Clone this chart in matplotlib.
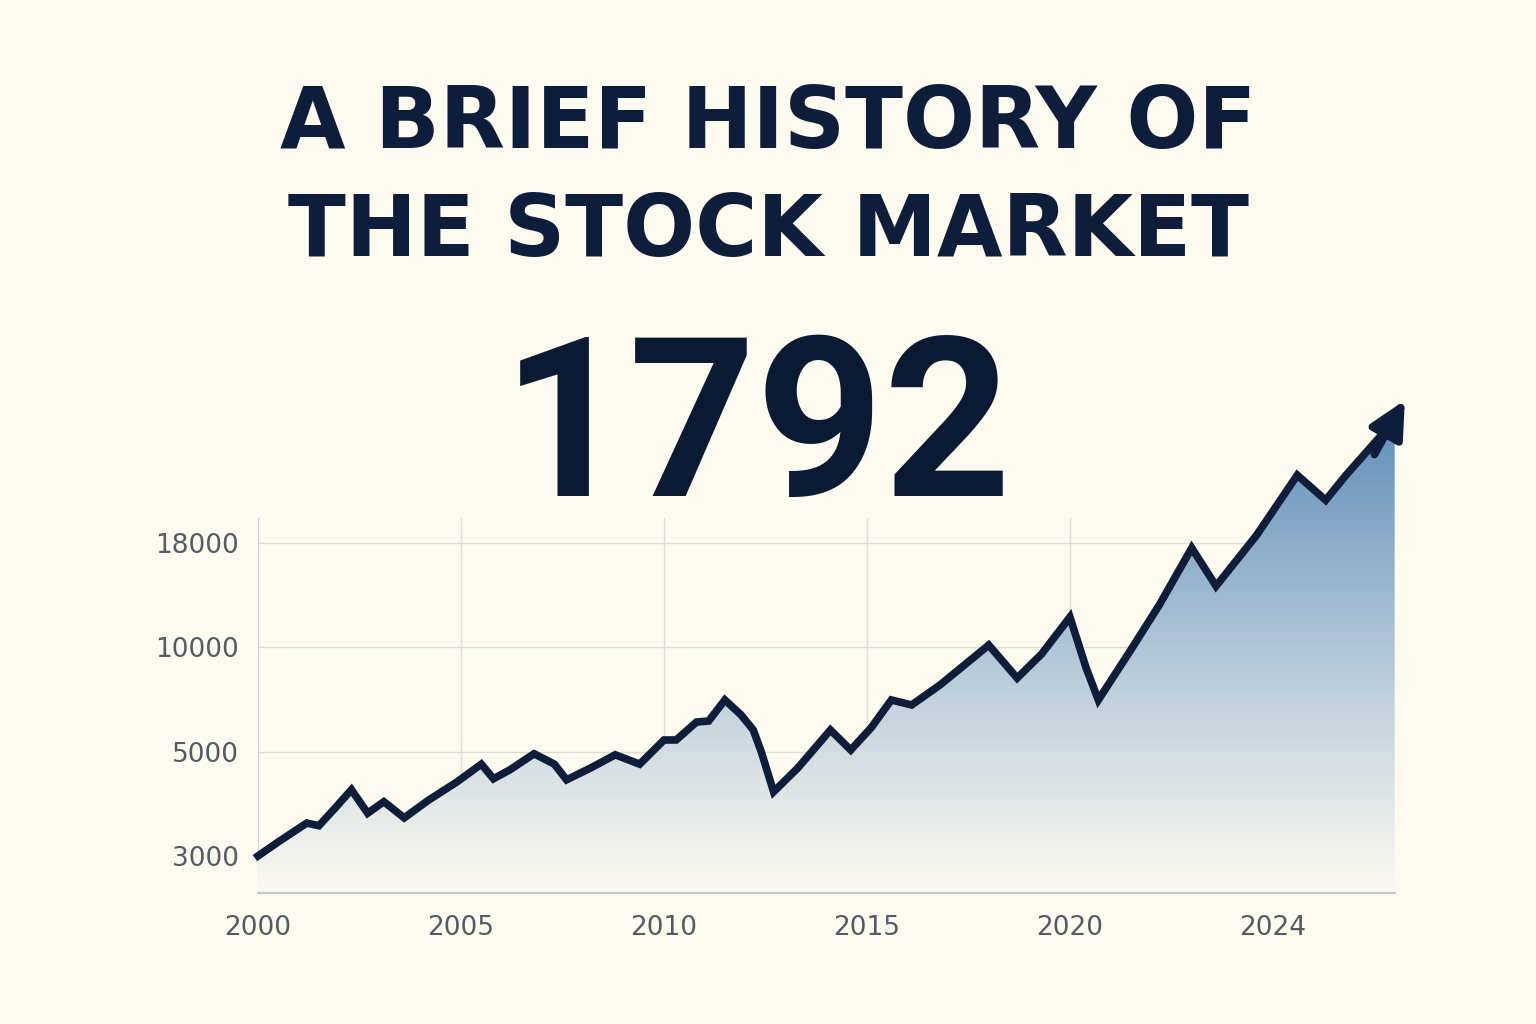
import numpy as np
import matplotlib
matplotlib.use("Agg")
import matplotlib.pyplot as plt
from matplotlib.patches import Polygon

years = [2000.0,2000.5,2001.2,2001.5,2001.9,2002.3,2002.7,2003.1,2003.6,2004.2,2004.9,2005.5,2005.8,2006.2,2006.8,2007.3,2007.6,2008.2,2008.8,2009.4,2010.0,2010.3,2010.8,2011.1,2011.5,2011.9,2012.2,2012.4,2012.7,2013.3,2014.1,2014.6,2015.1,2015.6,2016.1,2016.8,2018.0,2018.7,2019.3,2020.0,2020.4,2020.7,2021.1,2021.5,2022.2,2023.0,2023.6,2024.6,2025.6,2026.3,2026.8,2028.0]
values = [3000,3270,3630,3580,3920,4270,3820,4040,3730,4070,4420,4760,4480,4650,4960,4760,4460,4690,4940,4760,5560,5560,6420,6470,7480,6760,6040,4990,4230,4690,6040,5080,6140,7480,7240,8200,10180,8530,9680,12330,9010,7480,8680,9880,13250,17630,14710,18620,23220,21300,23220,27440]
arrow_tip = (2028.25, 28960)
y_ticks = [3000, 5000, 10000, 18000]
x_tick_pos = [2000, 2005, 2010, 2015, 2020, 2025]
x_tick_labels = ["2000", "2005", "2010", "2015", "2020", "2024"]

knots_v = [1000, 3000, 5000, 10000, 18000, 66000]
knots_l = [-1, 0, 1, 2, 3, 9]
fwd = lambda v: np.interp(v, knots_v, knots_l)
inv = lambda l: np.interp(l, knots_l, knots_v)

bg = "#fdfaf0"
navy = "#0e1d3a"
fig = plt.figure(figsize=(15.36, 10.24), dpi=100, facecolor=bg)
L, B, W, H = 0.168, 0.128, 0.740, 0.366
ax = fig.add_axes([L, B, W, H], facecolor=bg)
ax.set_yscale('function', functions=(fwd, inv))
ax.set_xlim(2000, 2028.0)
lo, hi = 2290, 19920
ax.set_ylim(lo, hi)

H2 = 0.60
span = fwd(hi) - fwd(lo)
top2 = inv(fwd(lo) + span * H2 / H)
ax2 = fig.add_axes([L, B, W, H2], facecolor='none')
ax2.set_yscale('function', functions=(fwd, inv))
ax2.set_xlim(2000, 2028.0)
ax2.set_ylim(lo, top2)
ax2.axis('off')

xs = np.array(years); ys = np.array(values)
poly_pts = list(zip(xs, ys)) + [(xs[-1], lo), (xs[0], lo)]
poly = Polygon(poly_pts, closed=True, transform=ax2.transData, facecolor='none', edgecolor='none')
ax2.add_patch(poly)
grad = np.linspace(0, 1, 256)
c0 = np.array([0.985, 0.975, 0.945]); c1 = np.array([0.38, 0.56, 0.73])
img = c0 + (c1 - c0) * (grad[:, None] ** 1.1)
img = img[:, None, :]
fill_top = (fwd(values[-1]) - fwd(lo)) / (fwd(top2) - fwd(lo))
im = ax2.imshow(img, extent=[0, 1, 0, fill_top], origin='lower', aspect='auto',
                transform=ax2.transAxes, zorder=1, interpolation='bilinear')
im.set_clip_path(poly)
ax2.plot([0, 1], [0, 0], transform=ax2.transAxes, color="#c4c9cf", lw=1.5, zorder=2, clip_on=False)

ax2.plot(years, values, color=navy, lw=5.5, solid_joinstyle='miter', zorder=3, clip_on=False)
ax2.annotate('', xy=arrow_tip, xytext=(years[-2] + 0.7, 24800),
             arrowprops=dict(arrowstyle='-|>', lw=5.5, color=navy, mutation_scale=55,
                             shrinkA=0, shrinkB=0), zorder=4, annotation_clip=False)

ax.set_yticks(y_ticks)
ax.set_yticklabels([str(v) for v in y_ticks])
ax.yaxis.set_minor_locator(matplotlib.ticker.NullLocator())
ax.set_xticks(x_tick_pos)
ax.set_xticklabels(x_tick_labels)
ax.tick_params(length=0, labelsize=19, labelcolor="#555b63")
ax.tick_params(axis='x', pad=16)
ax.tick_params(axis='y', pad=14)
ax.grid(True, color="#dcdcd8", lw=1, zorder=0)
ax.set_axisbelow(True)
for s in ['top', 'right']:
    ax.spines[s].set_visible(False)
ax.spines['left'].set_color("#cfd2d6")
ax.spines['bottom'].set_color("#c4c9cf")
ax.spines['bottom'].set_linewidth(1.5)

fig.text(0.5, 0.878, "A BRIEF HISTORY OF", ha='center', va='center', fontsize=61,
         fontweight='bold', color=navy, family='DejaVu Sans')
fig.text(0.5, 0.773, "THE STOCK MARKET", ha='center', va='center', fontsize=61,
         fontweight='bold', color=navy, family='DejaVu Sans')
fig.text(0.493, 0.575, "1792", ha='center', va='center', fontsize=160,
         fontweight='bold', color="#0b1a33", family='Roboto')

fig.savefig("out.png", dpi=100, facecolor=bg)
